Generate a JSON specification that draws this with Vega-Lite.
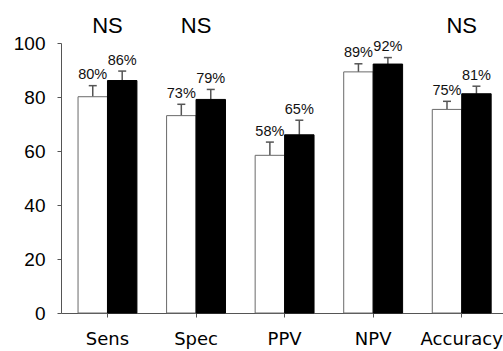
{
  "$schema": "https://vega.github.io/schema/vega-lite/v6.json",
  "width": 442,
  "height": 270,
  "autosize": "none",
  "padding": {"left": 61, "top": 43, "right": 0, "bottom": 38},
  "background": "white",
  "config": {
    "view": {"stroke": null},
    "axis": {"grid": false, "title": null, "domainColor": "#555", "tickColor": "#555", "labelColor": "#000"}
  },
  "datasets": {
    "bars": [
      {"metric": "Sens", "group": "A", "value": 80.1, "upper": 84.2, "label": "80%"},
      {"metric": "Sens", "group": "B", "value": 86.1, "upper": 89.6, "label": "86%"},
      {"metric": "Spec", "group": "A", "value": 73.1, "upper": 77.3, "label": "73%"},
      {"metric": "Spec", "group": "B", "value": 79.1, "upper": 82.8, "label": "79%"},
      {"metric": "PPV", "group": "A", "value": 58.4, "upper": 63.3, "label": "58%"},
      {"metric": "PPV", "group": "B", "value": 66.0, "upper": 71.4, "label": "65%"},
      {"metric": "NPV", "group": "A", "value": 89.3, "upper": 92.3, "label": "89%"},
      {"metric": "NPV", "group": "B", "value": 92.2, "upper": 94.6, "label": "92%"},
      {"metric": "Accuracy", "group": "A", "value": 75.4, "upper": 78.4, "label": "75%"},
      {"metric": "Accuracy", "group": "B", "value": 81.2, "upper": 84.0, "label": "81%"}
    ],
    "ns": [
      {"metric": "Sens", "text": "NS"},
      {"metric": "Spec", "text": "NS"},
      {"metric": "Accuracy", "text": "NS"}
    ]
  },
  "encoding": {
    "x": {
      "field": "metric", "type": "nominal", "sort": ["Sens", "Spec", "PPV", "NPV", "Accuracy"],
      "scale": {"paddingInner": 0.335, "paddingOuter": 0.163, "align": 0.59},
      "axis": {"labelAngle": 0, "labelFont": "DejaVu Sans", "labelFontSize": 18, "tickSize": 4, "labelPadding": 13}
    }
  },
  "layer": [
    {
      "data": {"name": "bars"},
      "mark": {"type": "rule", "color": "#555", "strokeWidth": 1.5},
      "encoding": {
        "xOffset": {"field": "group", "type": "nominal"},
        "y": {"field": "value", "type": "quantitative"},
        "y2": {"field": "upper"}
      }
    },
    {
      "data": {"name": "bars"},
      "mark": {"type": "tick", "orient": "horizontal", "size": 8, "thickness": 1.5, "color": "#555", "opacity": 1},
      "encoding": {
        "xOffset": {"field": "group", "type": "nominal"},
        "y": {"field": "upper", "type": "quantitative"}
      }
    },
    {
      "data": {"name": "bars"},
      "mark": {"type": "bar", "strokeWidth": 1},
      "encoding": {
        "xOffset": {"field": "group", "type": "nominal"},
        "y": {
          "field": "value", "type": "quantitative",
          "scale": {"domain": [0, 100], "nice": false},
          "axis": {"values": [0, 20, 40, 60, 80, 100], "labelFont": "Liberation Sans", "labelFontSize": 19, "tickSize": 4, "labelPadding": 12}
        },
        "fill": {"field": "group", "type": "nominal", "scale": {"domain": ["A", "B"], "range": ["#ffffff", "#000000"]}, "legend": null},
        "stroke": {"field": "group", "type": "nominal", "scale": {"domain": ["A", "B"], "range": ["#6a6a6a", "#000000"]}, "legend": null}
      }
    },
    {
      "data": {"name": "bars"},
      "mark": {"type": "text", "font": "Liberation Sans", "fontSize": 14.5, "baseline": "alphabetic", "dy": -6.5, "color": "#111"},
      "encoding": {
        "xOffset": {"field": "group", "type": "nominal"},
        "y": {"field": "upper", "type": "quantitative"},
        "text": {"field": "label"}
      }
    },
    {
      "data": {"name": "ns"},
      "mark": {"type": "text", "font": "Liberation Sans", "fontSize": 22, "baseline": "alphabetic", "dy": -10, "color": "#000"},
      "encoding": {
        "y": {"datum": 100, "type": "quantitative"},
        "text": {"field": "text"}
      }
    }
  ]
}
